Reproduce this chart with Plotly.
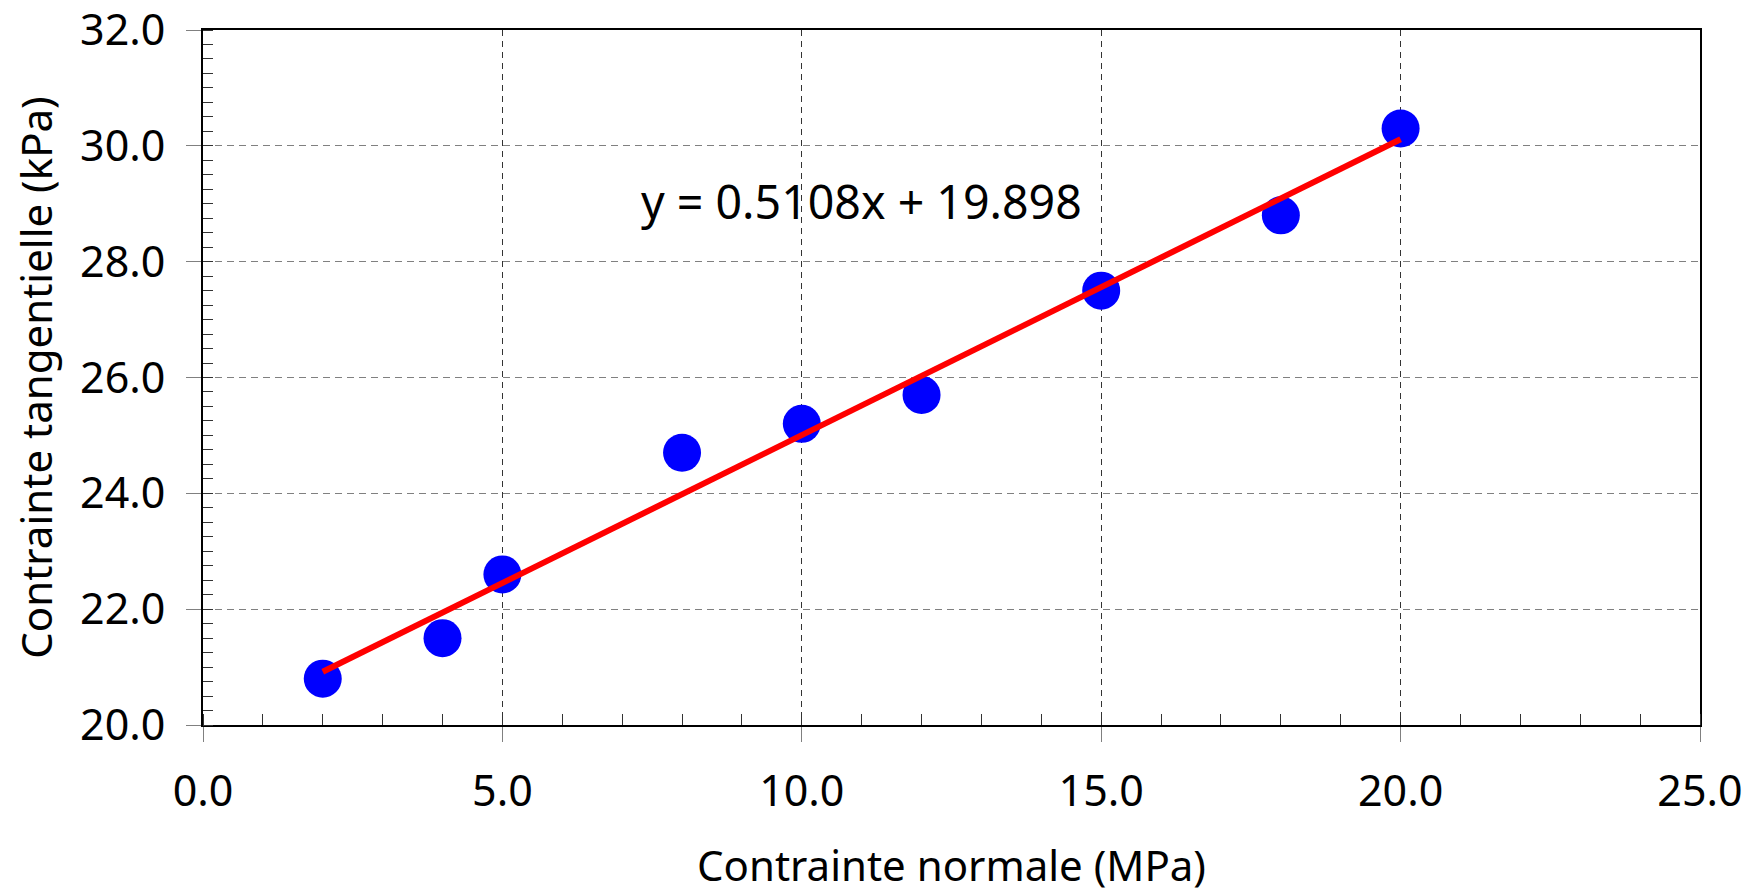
import plotly.graph_objects as go

# Data
x_vals = [2, 4, 5, 8, 10, 12, 15, 18, 20]
y_vals = [20.8, 21.5, 22.6, 24.7, 25.2, 25.7, 27.5, 28.8, 30.3]
slope = 0.5108
intercept = 19.898
fit_x = [2, 20]
fit_y = [slope * v + intercept for v in fit_x]
equation_text = "y = 0.5108x + 19.898"
x_title = "Contrainte normale (MPa)"
y_title = "Contrainte tangentielle (kPa)"
x_ticks = [0, 5, 10, 15, 20, 25]
y_ticks = [20, 22, 24, 26, 28, 30, 32]

FONT = "Noto Sans"

fig = go.Figure()
fig.add_trace(go.Scatter(
    x=x_vals, y=y_vals, mode="markers",
    marker=dict(color="#0000FF", size=38, line=dict(width=0)),
    showlegend=False, hoverinfo="x+y"))
fig.add_trace(go.Scatter(
    x=fit_x, y=fit_y, mode="lines",
    line=dict(color="#FF0000", width=6),
    showlegend=False))

fig.add_annotation(x=11.0, y=29.05, xref="x", yref="y", text=equation_text,
                   showarrow=False, xanchor="center", yanchor="middle",
                   font=dict(family=FONT, size=46.5, color="black"))

fig.update_xaxes(
    range=[0, 25], tickmode="array", tickvals=x_ticks,
    ticktext=[f"{v:.1f}" for v in x_ticks],
    showline=True, linecolor="black", linewidth=2, mirror=True,
    ticks="outside", ticklen=15, tickcolor="#808080", tickwidth=1,
    minor=dict(ticks="inside", dtick=1, tick0=0, ticklen=11, tickcolor="#333333", tickwidth=1, showgrid=False),
    showgrid=True, gridcolor="#333333", gridwidth=1, griddash="6px,5px",
    zeroline=False, ticklabeloverflow="allow",
    tickfont=dict(family=FONT, size=43, color="black"),
    ticklabelstandoff=12,
    title=dict(text=x_title, font=dict(family=FONT, size=42, color="black"), standoff=34),
)
fig.update_yaxes(
    range=[20, 32], tickmode="array", tickvals=y_ticks,
    ticktext=[f"{v:.1f}" for v in y_ticks],
    showline=True, linecolor="black", linewidth=2, mirror=True,
    ticks="outside", ticklen=15, tickcolor="#808080", tickwidth=1,
    minor=dict(ticks="inside", dtick=0.25, tick0=20, ticklen=10, tickcolor="#333333", tickwidth=1, showgrid=False),
    showgrid=True, gridcolor="#808080", gridwidth=1, griddash="7px,5px",
    zeroline=False, ticklabeloverflow="allow",
    tickfont=dict(family=FONT, size=43, color="black"),
    ticklabelstandoff=12,
    title=dict(text=y_title, font=dict(family=FONT, size=42, color="black"), standoff=14),
)

fig.update_layout(
    width=1760, height=893,
    margin=dict(l=203, r=60, t=30, b=168, autoexpand=False),
    plot_bgcolor="white", paper_bgcolor="white",
    font=dict(family=FONT, color="black"),
)

fig.write_html("out.html")
